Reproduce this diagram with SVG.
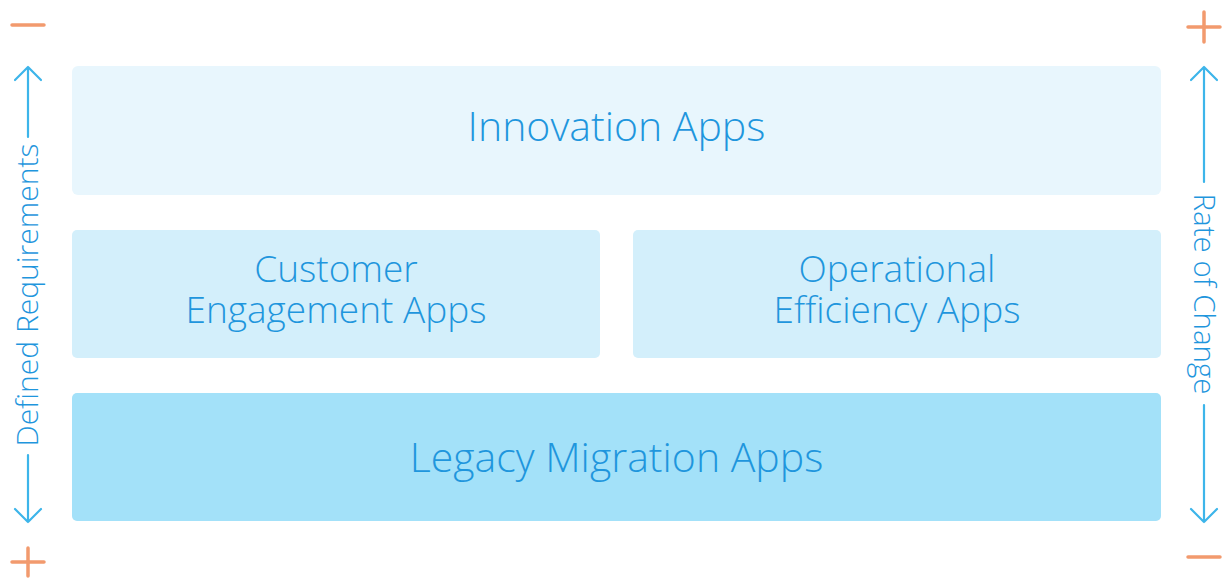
<svg xmlns="http://www.w3.org/2000/svg" width="1223" height="580" viewBox="0 0 1223 580">
<style>
.lbl{font-family:"Open Sans","Liberation Sans",sans-serif;font-weight:300;fill:#1F96DD;text-anchor:middle}
.big{font-size:41px}
.mid{font-size:37px}
.side{font-size:30px}
.ax{stroke:#3DB5EA;stroke-width:2.2;fill:none;stroke-linecap:round;stroke-linejoin:round}
.pm{stroke:#F29A6E;stroke-width:3.5;stroke-linecap:round;fill:none}
</style>
<rect width="1223" height="580" fill="#ffffff"/>
<g id="innovation">
<rect x="72" y="66" width="1089" height="129" rx="6" fill="#E8F6FD"/>
<text class="lbl big" x="616.5" y="141">Innovation Apps</text>
</g>
<g id="customer">
<rect x="72" y="230" width="528" height="128" rx="5" fill="#D3EFFB"/>
<text class="lbl mid" x="336" y="282">Customer</text>
<text class="lbl mid" x="336" y="323">Engagement Apps</text>
</g>
<g id="operational">
<rect x="633" y="230" width="528" height="128" rx="5" fill="#D3EFFB"/>
<text class="lbl mid" x="897" y="282">Operational</text>
<text class="lbl mid" x="897" y="323">Efficiency Apps</text>
</g>
<g id="legacy">
<rect x="72" y="393" width="1089" height="128" rx="5" fill="#A3E1F9"/>
<text class="lbl big" x="616.5" y="472">Legacy Migration Apps</text>
</g>
<g id="connectors">
<path class="ax" d="M28 67 V137 M15 80 L28 67 L41 80"/>
<path class="ax" d="M28 455 V522 M15 509 L28 522 L41 509"/>
<text class="lbl side" transform="translate(38 295) rotate(-90)">Defined Requirements</text>
<path class="ax" d="M1204 67 V182 M1191 80 L1204 67 L1217 80"/>
<path class="ax" d="M1204 405 V522 M1191 509 L1204 522 L1217 509"/>
<text class="lbl side" transform="translate(1194 294) rotate(90)" style="font-size:29.5px">Rate of Change</text>
<path class="pm" d="M12 25 H44"/>
<path class="pm" d="M12 562 H44 M28 548 V576"/>
<path class="pm" d="M1188 27 H1220 M1204 12 V42"/>
<path class="pm" d="M1188 557 H1220"/>
</g>
</svg>
